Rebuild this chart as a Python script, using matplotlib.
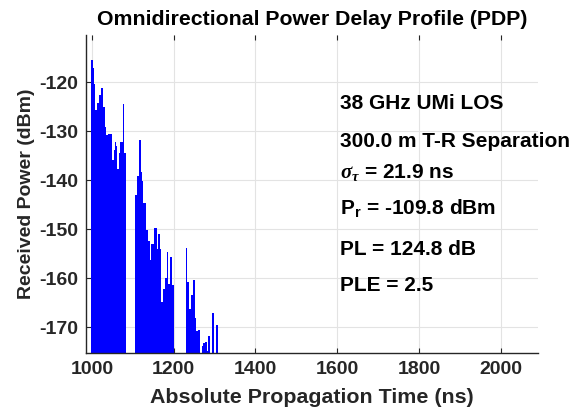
import numpy as np
import matplotlib.pyplot as plt

plt.rcParams['font.family'] = ['Liberation Sans', 'DejaVu Sans']
plt.rcParams['font.weight'] = 'bold'
plt.rcParams['axes.unicode_minus'] = False
plt.rcParams['mathtext.fontset'] = 'custom'
plt.rcParams['mathtext.rm'] = 'Liberation Sans:bold'
plt.rcParams['mathtext.bf'] = 'Liberation Sans:bold'
plt.rcParams['mathtext.it'] = 'Liberation Serif:italic'

# PDP: bin edges (ns) and received power (dBm) per bin
edges_1 = [997, 1002, 1006, 1008, 1010, 1010.5, 1012, 1016, 1020, 1020.5, 1023, 1027, 1031,
           1035, 1039, 1043, 1043.5, 1049, 1053, 1056, 1059, 1059.5, 1062, 1066, 1069, 1069.5,
           1075, 1079, 1084]
power_1 = [-115.5, -117.1, -120.3, -125.7, -127.5, -125.7, -124.3, -122.7, -130.1, -122.7,
           -121.2, -125.0, -129.1, -130.8, -130.5, -139.5, -130.5, -135.9, -133.9, -132.2,
           -140.5, -133.0, -137.6, -134.5, -148.7, -132.2, -124.5, -134.4]

edges_2 = [1106, 1110, 1114, 1115, 1115.5, 1119, 1122, 1124, 1124.5, 1132, 1138, 1142, 1145,
           1151, 1151.5, 1153, 1159, 1162, 1166, 1170, 1174, 1178, 1183, 1187, 1191, 1196,
           1200, 1201]
power_2 = [-143.0, -139.1, -131.8, -145.0, -131.8, -138.4, -140.2, -150.0, -144.7, -150.1,
           -152.4, -156.2, -152.9, -162.8, -152.9, -149.7, -154.0, -150.9, -154.1, -164.9,
           -162.2, -159.9, -154.6, -161.2, -155.7, -161.4, -174.0]

edges_3 = [1229, 1233, 1237, 1243, 1247, 1251, 1255, 1259, 1263.5, 1268.5, 1272.5, 1276.5,
           1281.5, 1285, 1288, 1290, 1294.5, 1299.5, 1304.5, 1309.5]
power_3 = [-153.7, -160.7, -166.3, -163.4, -160.4, -168.1, -170.7, -170.5, -190.0, -173.8,
           -173.1, -172.9, -174.7, -171.7, -172.0, -190.0, -167.0, -190.0, -169.4]

info_lines = ['38 GHz UMi LOS', '300.0 m T-R Separation', r'$\sigma_{\tau}$ = 21.9 ns',
              r'P$_{\mathbf{r}}$ = -109.8 dBm', 'PL = 124.8 dB', 'PLE = 2.5']
info_y = [-124.3, -132.0, -138.5, -145.6, -154.2, -161.5]

fig = plt.figure(figsize=(5.75, 4.09), dpi=100)
ax = fig.add_axes([0.150, 0.137, 0.786, 0.777])

for e, p in [(edges_1, power_1), (edges_2, power_2), (edges_3, power_3)]:
    ax.stairs(p, e, baseline=-190, fill=True, color='#0000ff', linewidth=0)

for txt, yy in zip(info_lines, info_y):
    ax.text(1606, yy, txt, fontsize=15, fontweight='bold', va='center', ha='left')

ax.set_xlim(986, 2092)
ax.set_ylim(-175.2, -110.4)
ax.set_xticks([1000, 1200, 1400, 1600, 1800, 2000])
ax.set_yticks([-170, -160, -150, -140, -130, -120])

ax.grid(True, color='#e3e3e3', linewidth=0.8)
ax.set_axisbelow(True)
for s in ['top', 'right']:
    ax.spines[s].set_visible(False)
for s in ['left', 'bottom']:
    ax.spines[s].set_color('#262626')
    ax.spines[s].set_linewidth(1.0)
ax.tick_params(direction='in', length=3.5, width=0.8, top=True, labelsize=14,
               colors='#262626', pad=6)

ax.set_xlabel('Absolute Propagation Time (ns)', fontsize=15.4, fontweight='bold',
              color='#262626', labelpad=7)
ax.set_ylabel('Received Power (dBm)', fontsize=14, fontweight='bold',
              color='#262626', labelpad=3)
ax.set_title('Omnidirectional Power Delay Profile (PDP)', fontsize=15.3,
             fontweight='bold', pad=7)

fig.savefig('out.png', dpi=100)
